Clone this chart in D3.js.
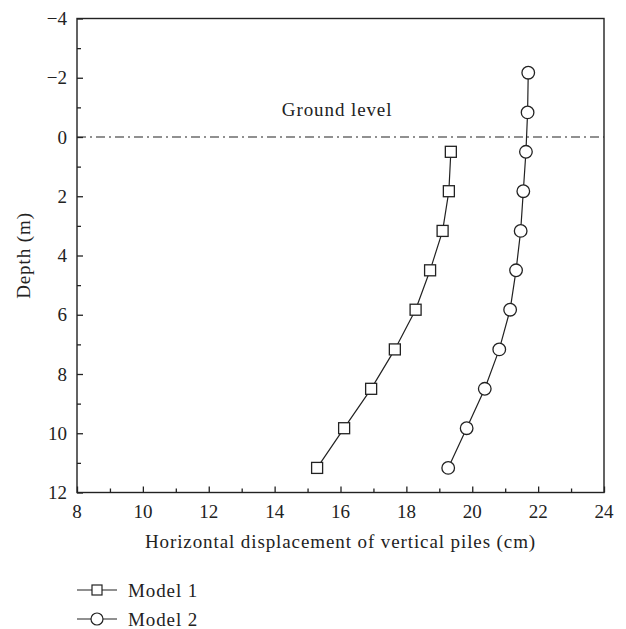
<!DOCTYPE html>
<html>
<head>
<meta charset="utf-8">
<script src="https://cdn.jsdelivr.net/npm/d3@7"></script>
<style>
  body { margin: 0; background: #fff; }
  svg text { font-family: 'Liberation Serif', 'DejaVu Serif', serif; fill: #222; }
</style>
</head>
<body>
<div class="chart-holder"></div>
<script>
let margin = { top: 18.5, bottom: 136.5, left: 77, right: 22 }
let width = 626 - margin.left - margin.right
let height = 629 - margin.top - margin.bottom

// depth (m) of each measuring point
let depth1 = [0.5, 1.83, 3.17, 4.5, 5.83, 7.17, 8.5, 9.83, 11.17]
let depth2 = [-2.17, -0.83, 0.5, 1.83, 3.17, 4.5, 5.83, 7.17, 8.5, 9.83, 11.17]
// horizontal displacement (cm)
let model1 = [19.35, 19.29, 19.1, 18.72, 18.28, 17.65, 16.93, 16.11, 15.29]
let model2 = [21.70, 21.68, 21.63, 21.55, 21.47, 21.33, 21.15, 20.82, 20.38, 19.83, 19.27]

let xTicks = [8, 10, 12, 14, 16, 18, 20, 22, 24]
let yTicks = [-4, -2, 0, 2, 4, 6, 8, 10, 12]
let seriesNames = ['Model 1', 'Model 2']

let ink = '#222'
let fs = 19
let spacing = '0.9px'

let x = d3.scaleLinear().domain([8, 24]).range([0, width])
let y = d3.scaleLinear().domain([-4, 12]).range([0, height])

let svg = d3.select('.chart-holder')
    .append('svg')
        .attr('width', 626)
        .attr('height', 629)

let plot = svg.append('g')
    .attr('transform', 'translate(' + margin.left + ',' + margin.top + ')')

// minor ticks (inside)
plot.append('g')
    .attr('transform', 'translate(0,' + height + ')')
    .call(d3.axisTop(x).tickValues(d3.range(9, 24, 2)).tickSize(4).tickFormat(''))
    .call(g => g.select('.domain').remove())
plot.append('g')
    .call(d3.axisRight(y).tickValues(d3.range(-3, 12, 2)).tickSize(4).tickFormat(''))
    .call(g => g.select('.domain').remove())

// major ticks (inside) + labels (outside)
plot.append('g')
    .attr('transform', 'translate(0,' + height + ')')
    .call(d3.axisTop(x).tickValues(xTicks).tickSize(6).tickFormat(''))
    .call(g => g.select('.domain').remove())
plot.append('g')
    .call(d3.axisRight(y).tickValues(yTicks).tickSize(6).tickFormat(''))
    .call(g => g.select('.domain').remove())

plot.selectAll('.tick line').attr('stroke', ink).attr('stroke-width', 1.3)

plot.append('g').selectAll('text')
    .data(xTicks).enter()
    .append('text')
        .attr('x', d => x(d))
        .attr('y', height + 25)
        .attr('text-anchor', 'middle')
        .attr('font-size', fs)
        .text(d => d)

plot.append('g').selectAll('text')
    .data(yTicks).enter()
    .append('text')
        .attr('x', -10)
        .attr('y', d => y(d) + 6.5)
        .attr('text-anchor', 'end')
        .attr('font-size', fs)
        .text(d => d < 0 ? '\u2212' + Math.abs(d) : d)

// frame
plot.append('rect')
    .attr('width', width).attr('height', height)
    .attr('fill', 'none')
    .attr('stroke', ink)
    .attr('stroke-width', 1.4)

// ground level
plot.append('line')
    .attr('x1', 0).attr('x2', width)
    .attr('y1', y(0)).attr('y2', y(0))
    .attr('stroke', ink).attr('stroke-width', 1.1)
    .attr('stroke-dasharray', '9,4,2,4')
plot.append('text')
    .attr('x', x(14.22))
    .attr('y', y(-0.71))
    .attr('font-size', fs)
    .style('letter-spacing', spacing)
    .text('Ground level')

// axis titles
svg.append('text')
    .attr('x', margin.left + width / 2)
    .attr('y', 548)
    .attr('text-anchor', 'middle')
    .attr('font-size', fs)
    .style('letter-spacing', spacing)
    .text('Horizontal displacement of vertical piles (cm)')
svg.append('text')
    .attr('transform', 'translate(30,' + (margin.top + height / 2) + ') rotate(-90)')
    .attr('text-anchor', 'middle')
    .attr('font-size', fs)
    .style('letter-spacing', spacing)
    .text('Depth (m)')

// series
let line = d3.line().x(d => x(d[0])).y(d => y(d[1]))
let pts1 = model1.map((v, i) => [v, depth1[i]])
let pts2 = model2.map((v, i) => [v, depth2[i]])

plot.append('path')
    .datum(pts1)
    .attr('d', line)
    .attr('fill', 'none').attr('stroke', ink).attr('stroke-width', 1.2)
plot.append('path')
    .datum(pts2)
    .attr('d', line)
    .attr('fill', 'none').attr('stroke', ink).attr('stroke-width', 1.2)

plot.append('g').selectAll('rect')
    .data(pts1).enter()
    .append('rect')
        .attr('x', d => x(d[0]) - 5.5)
        .attr('y', d => y(d[1]) - 5.5)
        .attr('width', 11).attr('height', 11)
        .attr('fill', '#fff').attr('stroke', ink).attr('stroke-width', 1.3)

plot.append('g').selectAll('circle')
    .data(pts2).enter()
    .append('circle')
        .attr('cx', d => x(d[0]))
        .attr('cy', d => y(d[1]))
        .attr('r', 6.3)
        .attr('fill', '#fff').attr('stroke', ink).attr('stroke-width', 1.3)

// legend
let legend = svg.append('g')
    .attr('transform', 'translate(77,590)')
    .selectAll('g')
    .data(seriesNames)
    .enter()
    .append('g')
        .attr('transform', (d, i) => 'translate(0,' + (i * 29) + ')')

legend.append('line')
    .attr('x1', 0).attr('x2', 40)
    .attr('stroke', ink).attr('stroke-width', 1.2)
legend.filter((d, i) => i === 0).append('rect')
    .attr('x', 15).attr('y', -5).attr('width', 10).attr('height', 10)
    .attr('fill', '#fff').attr('stroke', ink).attr('stroke-width', 1.2)
legend.filter((d, i) => i === 1).append('circle')
    .attr('cx', 20).attr('r', 6)
    .attr('fill', '#fff').attr('stroke', ink).attr('stroke-width', 1.2)
legend.append('text')
    .attr('x', 51)
    .attr('y', 6.5)
    .attr('font-size', fs)
    .style('letter-spacing', spacing)
    .text(d => d)
</script>
</body>
</html>
